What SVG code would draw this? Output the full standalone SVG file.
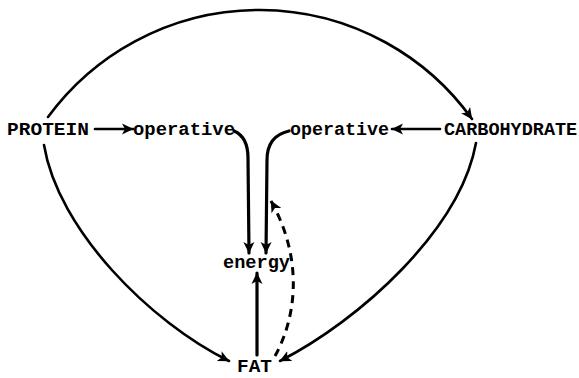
<svg xmlns="http://www.w3.org/2000/svg" width="579" height="378" viewBox="0 0 579 378">
<style>
  .lbl { font-family: "Liberation Mono", "DejaVu Sans Mono", monospace; font-weight: bold; font-size: 19px; fill: #000; }
  .c { fill: none; stroke: #000; stroke-width: 2.6; stroke-linecap: round; }
  .thick { stroke-width: 3.2; }
  .dash { stroke-dasharray: 8 6; stroke-linecap: butt; stroke-width: 3; }
</style>
<defs>
  <marker id="ah" markerUnits="userSpaceOnUse" markerWidth="12" markerHeight="12" viewBox="0 0 12 12" refX="11" refY="6" orient="auto">
    <path d="M0,0.5 L11.5,6 L0,11.5 L3,6 Z" fill="#000"/>
  </marker>
</defs>
<rect width="579" height="378" fill="#fff"/>
<g id="connectors">
  <path class="c" d="M48,117 A262,262 0 0 1 472,119" marker-end="url(#ah)"/>
  <path class="c" d="M44,145 C58,230 150,322 229,361" marker-end="url(#ah)"/>
  <path class="c" d="M476,143 C460,230 360,320 280,361" marker-end="url(#ah)"/>
  <path class="c" d="M95,129 L133,129" marker-end="url(#ah)"/>
  <path class="c" d="M440,129 L392,129" marker-end="url(#ah)"/>
  <path class="c thick" d="M234,131 Q248,137 248,158 L249,253" marker-end="url(#ah)"/>
  <path class="c thick" d="M289,131 Q267,136 267,160 L266,253" marker-end="url(#ah)"/>
  <path class="c thick" d="M257,355 L257,273" marker-end="url(#ah)"/>
  <path class="c dash" d="M275,356 C295,320 305,262 271,201" marker-end="url(#ah)"/>
</g>
<g id="protein"><text class="lbl" x="7" y="135" textLength="82" lengthAdjust="spacingAndGlyphs">PROTEIN</text></g>
<g id="operative-left"><text class="lbl" x="133" y="135" textLength="102" lengthAdjust="spacingAndGlyphs">operative</text></g>
<g id="operative-right"><text class="lbl" x="290" y="135" textLength="99" lengthAdjust="spacingAndGlyphs">operative</text></g>
<g id="carbohydrate"><text class="lbl" x="444" y="135" style="font-size:18.5px">CARBOHYDRATE</text></g>
<g id="energy"><text class="lbl" x="223" y="268" textLength="67" lengthAdjust="spacingAndGlyphs">energy</text></g>
<g id="fat"><text class="lbl" x="237" y="372" textLength="35" lengthAdjust="spacingAndGlyphs">FAT</text></g>
</svg>
